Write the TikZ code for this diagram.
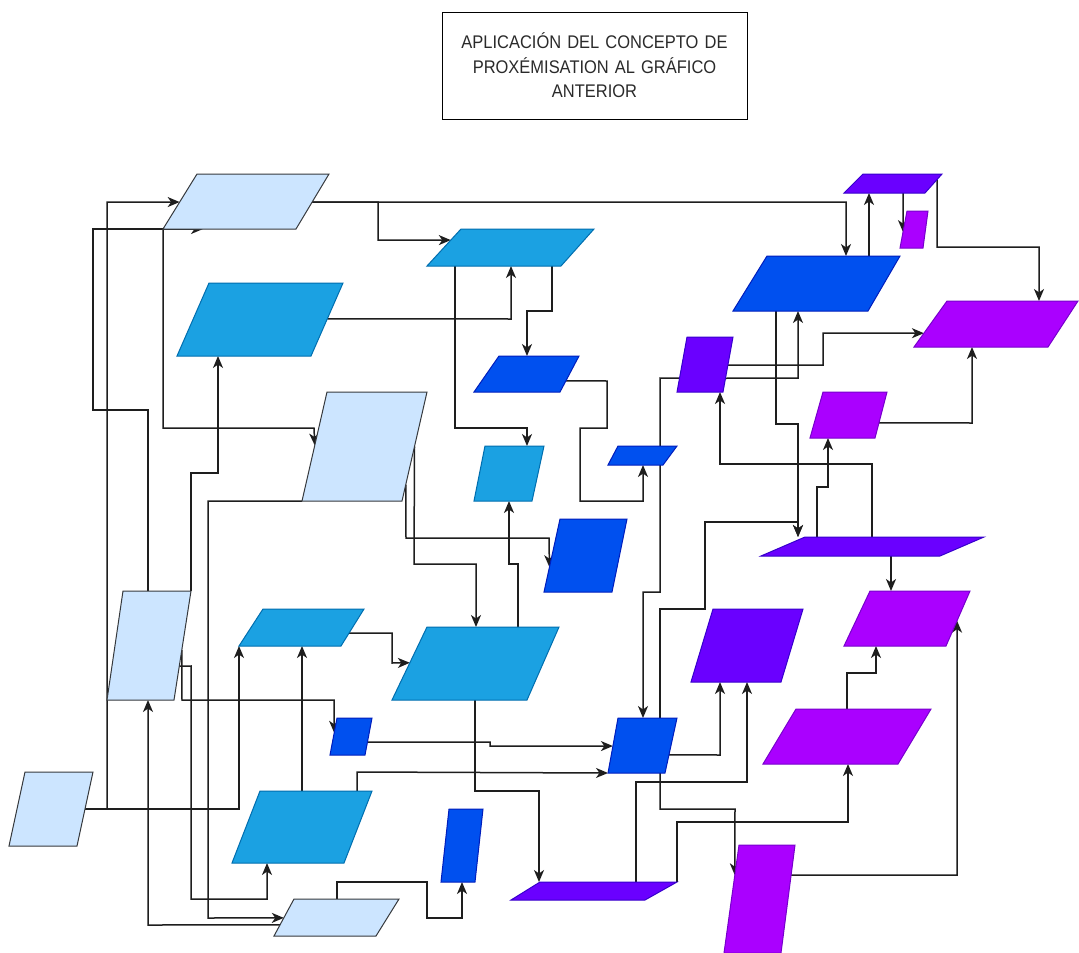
\documentclass[tikz,border=0pt]{standalone}
\usepackage{fontspec}
\newfontfamily\titlefont{Liberation Sans}[FakeStretch=0.9]
\usetikzlibrary{arrows.meta,calc,fit}
\pgfdeclarelayer{bg}
\pgfdeclarelayer{edges}
\pgfsetlayers{bg,edges,main}

\definecolor{lightF}{HTML}{CCE5FF}\definecolor{lightD}{HTML}{36393D}
\definecolor{midF}{HTML}{1BA1E2}\definecolor{midD}{HTML}{006EAF}
\definecolor{darkF}{HTML}{0050EF}\definecolor{darkD}{HTML}{001DBC}
\definecolor{indF}{HTML}{6A00FF}\definecolor{indD}{HTML}{3700CC}
\definecolor{purF}{HTML}{AA00FF}\definecolor{purD}{HTML}{7700CC}
\definecolor{wireC}{HTML}{1E1E1E}
\definecolor{titleC}{HTML}{2A2A2A}

\tikzset{
  pgLight/.style={fill=lightF, draw=lightD, line width=1pt},
  pgMid/.style={fill=midF, draw=midD, line width=1pt},
  pgDark/.style={fill=darkF, draw=darkD, line width=1pt},
  pgInd/.style={fill=indF, draw=indD, line width=1pt},
  pgPur/.style={fill=purF, draw=purD, line width=1pt},
  wire/.style={draw=wireC, line width=1.5pt, line join=miter,
    -{Stealth[length=12pt,width=10pt,inset=3.5pt]}},
  titlebox/.style={draw=black, line width=1pt, fill=white,
    minimum width=305pt, minimum height=107pt, inner sep=0pt,
    text width=300pt, align=center, text=titleC,
    font=\titlefont\fontsize{18.3}{24.5}\selectfont}
}

% parallelogram: name, style, top-left x, top-right x, top y,
% bottom-left x, bottom-right x, bottom y
\newcommand\pg[8]{%
  \coordinate (#1-tl) at (#3,#5);
  \coordinate (#1-tr) at (#4,#5);
  \coordinate (#1-bl) at (#6,#8);
  \coordinate (#1-br) at (#7,#8);
  \path[#2] (#1-bl) -- (#1-tl) -- (#1-tr) -- (#1-br) -- cycle;
  \node[fit=(#1-tl)(#1-tr)(#1-bl)(#1-br), inner sep=0pt, outer sep=0pt] (#1) {};
}

\begin{document}
\begin{tikzpicture}[x=1pt,y=-1pt]
\begin{pgfonlayer}{bg}
  \fill[white] (0,0) rectangle (1079,953);
\end{pgfonlayer}
\useasboundingbox (0,0) rectangle (1079,953);

% title
\node[titlebox] (title) at (594.5,65.5)
  {APLICACIÓN DEL CONCEPTO DE\\PROXÉMISATION AL GRÁFICO\\ANTERIOR};

% shapes
\pg{S1}{pgLight}{197}{329}{174}{163}{296}{229}
\pg{S2}{pgMid}{209}{343}{283}{177}{311}{356}
\pg{S3}{pgLight}{327}{427}{392}{302}{402}{501}
\pg{S4}{pgMid}{461}{594}{229}{427}{561}{266}
\pg{S5}{pgDark}{499}{579}{356}{474}{560}{392}
\pg{S6}{pgMid}{485}{544}{446}{474}{532}{501}
\pg{S7}{pgDark}{618}{677}{446}{608}{663}{465}
\pg{S8}{pgInd}{687}{733}{337}{677}{723}{392}
\pg{S9}{pgDark}{767}{900}{256}{733}{868}{311}
\pg{S10}{pgInd}{863}{942}{174}{844}{925}{193}
\pg{S11}{pgPur}{907}{928}{211}{900}{923}{248}
\pg{S12}{pgPur}{947}{1078}{301}{914}{1048}{347}
\pg{S13}{pgPur}{823}{887}{392}{810}{875}{438}
\pg{S14}{pgInd}{805}{984}{537}{761}{940}{556}
\pg{S15}{pgPur}{870}{970}{591}{844}{946}{646}
\pg{S16}{pgInd}{713}{803}{609}{691}{781}{682}
\pg{S17}{pgPur}{796}{931}{709}{763}{898}{764}
\pg{S18}{pgDark}{560}{627}{519}{544}{612}{592}
\pg{S19}{pgMid}{427}{559}{627}{392}{527}{700}
\pg{S20}{pgDark}{618}{677}{718}{608}{665}{773}
\pg{S21}{pgDark}{337}{372}{718}{330}{365}{755}
\pg{S22}{pgMid}{263}{364}{609}{239}{341}{646}
\pg{S23}{pgLight}{123}{191}{591}{107}{174}{700}
\pg{S24}{pgLight}{25}{93}{772}{9}{77}{846}
\pg{S25}{pgMid}{260}{372}{791}{232}{344}{863}
\pg{S26}{pgLight}{294}{399}{899}{274}{376}{936}
\pg{S27}{pgDark}{449}{483}{809}{441}{475}{882}
\pg{S28}{pgInd}{540}{677}{882}{511}{645}{900}
\pg{S29}{pgPur}{739}{795}{845}{724}{781}{953}

% connectors, drawn beneath the shapes
\begin{pgfonlayer}{edges}
  % left column
  \draw[wire] ($(S24-tr)!.5!(S24-br)$) -- (107,809) -- (107,202) -- ($(S1-tl)!.51!(S1-bl)$);
  \draw[wire] ($(S24-tr)!.5!(S24-br)$) -- (239,809) -- (S22-bl);
  \draw[wire] (S23-tl -| 148,0) -- (148,410) -- (93,410) -- (93,229) -- (S1-bl -| 203,0);
  \draw[wire] (S1-bl) -- (163,428) -- (314,428) -- ($(S3-tl)!.49!(S3-bl)$);
  \draw[wire] ($(S2-tr)!.49!(S2-br)$) -- (511,319) -- (S4-bl -| 511,0);
  \draw[wire] (S23-tr) -- (191,473) -- (218,473) -- (S2-bl -| 218,0);
  \draw[wire] ($(S1-tr)!.51!(S1-br)$) -- (378,202) -- (378,240) -- ($(S4-tl)!.3!(S4-bl)$);
  \draw[wire] ($(S1-tr)!.51!(S1-br)$) -- (846,202) -- (S9-tl -| 846,0);
  % centre
  \draw[wire] (S4-bl -| 455,0) -- (455,428) -- (527,428) -- (S6-tl -| 527,0);
  \draw[wire] (S4-bl -| 552,0) -- (552,311) -- (527,311) -- (S5-tl -| 527,0);
  \draw[wire] ($(S5-tr)!.69!(S5-br)$) -- (607,381) -- (607,428) -- (580,428) -- (580,501) -- (643,501) -- (S7-bl -| 643,0);
  \draw[wire] ($(S8-tl)!.75!(S8-bl)$) -- (660,378) -- (660,592) -- (643,592) -- (S20-tl -| 643,0);
  % upper right
  \draw[wire] (S9-tl -| 869,0) -- (S10-bl -| 869,0);
  \draw[wire] (S10-bl -| 903,0) -- ($(S11-tl)!.57!(S11-bl)$);
  \draw[wire] ($(S10-tr)!.29!(S10-br)$) -- (937,247) -- (1039,247) -- (S12-tl -| 1039,0);
  \draw[wire] (S9-bl -| 776,0) -- (776,424) -- (798,424) -- (S14-tl -| 798,0);
  \draw[wire] ($(S8-tr)!.75!(S8-br)$) -- (798,378) -- (S9-bl -| 798,0);
  \draw[wire] ($(S8-tr)!.51!(S8-br)$) -- (823,365) -- (823,333) -- ($(S12-tl)!.7!(S12-bl)$);
  \draw[wire] ($(S13-tr)!.67!(S13-br)$) -- (972,423) -- (S12-bl -| 972,0);
  \draw[wire] (S14-tl -| 817,0) -- (817,487) -- (828,487) -- (S13-bl -| 828,0);
  \draw[wire] (S14-tl -| 872,0) -- (872,464) -- (720,464) -- (S8-bl -| 720,0);
  \draw[wire] (S20-tl -| 660,0) -- (660,609) -- (705,609) -- (705,522) -- (798,522) -- (S14-tl -| 798,0);
  % lower right
  \draw[wire] (S14-bl -| 891,0) -- (S15-tl -| 891,0);
  \draw[wire] (S17-tl -| 847,0) -- (847,673) -- (876,673) -- (S15-bl -| 876,0);
  \draw[wire] ($(S29-tr)!.28!(S29-br)$) -- (957,875) -- ($(S15-tr)!.54!(S15-br)$);
  \draw[wire] ($(S20-tr)!.67!(S20-br)$) -- (720,755) -- (S16-bl -| 720,0);
  \draw[wire] (S28-tl -| 636,0) -- (636,782) -- (747,782) -- (S16-bl -| 747,0);
  \draw[wire] (S28-tr) -- (677,822) -- (848,822) -- (S17-bl -| 848,0);
  \draw[wire] (S20-bl -| 660,0) -- (660,809) -- (735,809) -- ($(S29-tl)!.28!(S29-bl)$);
  % lower centre
  \draw[wire] ($(S21-tr)!.65!(S21-br)$) -- (490,742) -- (490,746) -- ($(S20-tl)!.51!(S20-bl)$);
  \draw[wire] (S25-tl -| 357,0) -- (357,772) -- (S20-bl);
  \draw[wire] (S19-bl -| 475,0) -- (475,791) -- (539,791) -- (S28-tl -| 539,0);
  \draw[wire] (S26-tl -| 337,0) -- (337,882) -- (427,882) -- (427,918) -- (462,918) -- (S27-bl -| 462,0);
  \draw[wire] ($(S26-tl)!.7!(S26-bl)$) -- (148,925) -- (S23-bl -| 148,0);
  \draw[wire] (S3-bl) -- (208,501) -- (208,918) -- ($(S26-tl)!.51!(S26-bl)$);
  \draw[wire] ($(S23-tr)!.54!(S23-br)$) -- (182,700) -- (334,700) -- ($(S21-tl)!.4!(S21-bl)$);
  \draw[wire] ($(S23-tr)!.69!(S23-br)$) -- (191,666) -- (191,899) -- (267,899) -- (S25-bl -| 267,0);
  \draw[wire] (S25-tl -| 302,0) -- (S22-bl -| 302,0);
  \draw[wire] ($(S22-tr)!.65!(S22-br)$) -- (392,633) -- (392,663) -- ($(S19-tl)!.49!(S19-bl)$);
  \draw[wire] ($(S3-tr)!.85!(S3-br)$) -- (406,538) -- (549,538) -- ($(S18-tl)!.66!(S18-bl)$);
  \draw[wire] ($(S3-tr)!.5!(S3-br)$) -- (414,564) -- (476,564) -- (S19-tl -| 476,0);
  \draw[wire] (S19-tl -| 518,0) -- (518,564) -- (509,564) -- (S6-bl -| 509,0);
\end{pgfonlayer}
\end{tikzpicture}
\end{document}
